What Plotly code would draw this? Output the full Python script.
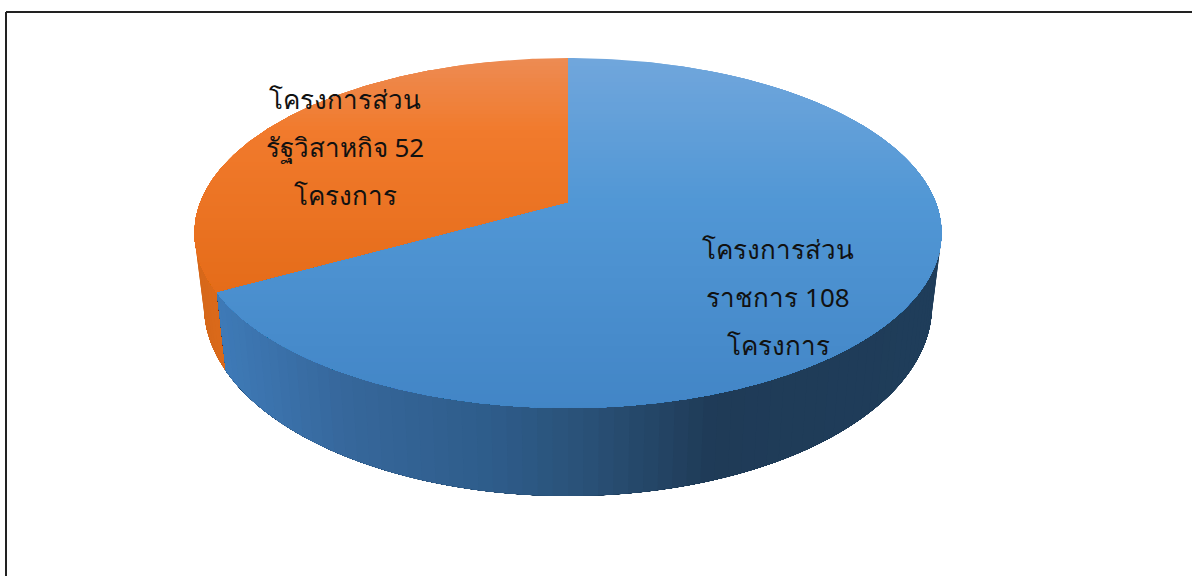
import numpy as np
import plotly.graph_objects as go

# --- data ---
categories = ["ราชการ", "รัฐวิสาหกิจ"]
project_counts = [108, 52]
label_head = "โครงการส่วน"
label_tail = "โครงการ"

# --- pie geometry (page pixels) ---
CX, APEX_Y = 568.0, 203.0
RIM_CY, RIM_RX, RIM_RY = 233.0, 373.5, 175.0
BASE_CY, BASE_RX, BASE_RY = 306.0, 364.0, 190.0
TOP_Y, BOTTOM_Y = RIM_CY - RIM_RY, RIM_CY + RIM_RY
back, front = APEX_Y - TOP_Y, BOTTOM_Y - APEX_Y
K = (front - back) / (front + back)
A = back * (1 + K)
B = RIM_RX * np.sqrt(1 - K * K)
EDGE_TRIM_DEG = -2.0  # calibration of the perspective at the slice edge


def rim(theta):
    th = np.radians(theta)
    w = 1 + K * np.cos(th)
    return CX + B * np.sin(th) / w, APEX_Y - A * np.cos(th) / w


def base(theta):
    x, y = rim(theta)
    sin_t, cos_t = (x - CX) / RIM_RX, -(y - RIM_CY) / RIM_RY
    return CX + BASE_RX * sin_t, BASE_CY - BASE_RY * cos_t


def clip_below(xs, ys, y0):
    out = []
    n = len(xs)
    for i in range(n):
        x1, y1, x2, y2 = xs[i], ys[i], xs[(i + 1) % n], ys[(i + 1) % n]
        if y1 >= y0:
            out.append((x1, y1))
        if (y1 >= y0) != (y2 >= y0):
            f = (y0 - y1) / (y2 - y1)
            out.append((x1 + f * (x2 - x1), y0))
    return [p[0] for p in out], [p[1] for p in out]


def ramp(stops, v):
    pos = [s[0] for s in stops]
    rgb = [np.interp(v, pos, [s[1][i] for s in stops]) for i in range(3)]
    return "rgb(%d,%d,%d)" % tuple(int(round(c)) for c in rgb)


BLUE_TOP = [(58, (112, 166, 220)), (200, (81, 151, 213)), (408, (66, 133, 198))]
ORANGE_TOP = [(58, (237, 139, 82)), (130, (241, 122, 44)), (300, (228, 107, 24))]
BLUE_SIDE = [(220, (62, 122, 183)), (350, (54, 103, 155)), (500, (46, 92, 138)),
             (600, (41, 80, 118)), (720, (31, 59, 87)), (940, (31, 61, 90))]
ORANGE_SIDE = [(195, (214, 104, 26)), (230, (222, 106, 26))]

fig = go.Figure()


def poly(xs, ys, color):
    fig.add_trace(go.Scatter(
        x=list(xs) + [xs[0]], y=list(ys) + [ys[0]], mode="lines", fill="toself",
        fillcolor=color, line=dict(color=color, width=0), hoverinfo="skip",
        showlegend=False))


edge = 360.0 * project_counts[0] / sum(project_counts) + EDGE_TRIM_DEG


# side walls: each step repaints everything still ahead of it, so no seams show
def wall(th_from, th_to, stops):
    step = 2.0 if th_to > th_from else -2.0
    for a in np.arange(th_from, th_to, step):
        ths = np.linspace(a, th_to, 60)
        rx, ry = rim(ths)
        bx, by = base(ths)
        xs = list(rx) + list(bx[::-1])
        ys = list(ry) + list(by[::-1])
        poly(xs, ys, ramp(stops, float(rim(a)[0])))


wall(290.0, edge, ORANGE_SIDE)
wall(70.0, edge, BLUE_SIDE)


# top faces, painted band over band so the shading runs down the page
def top_face(th_from, th_to, stops):
    ths = np.linspace(th_from, th_to, 240)
    xs, ys = rim(ths)
    xs, ys = [CX] + list(xs), [APEX_Y] + list(ys)
    for y0 in np.arange(min(ys), max(ys), 4.0):
        cx, cy = clip_below(xs, ys, y0)
        if len(cx) >= 3:
            poly(cx, cy, ramp(stops, y0))


top_face(edge, 360.0, ORANGE_TOP)
top_face(0.0, edge, BLUE_TOP)

# labels
label_lines = [
    [label_head, f"{categories[0]} {project_counts[0]}", label_tail],
    [label_head, f"{categories[1]} {project_counts[1]}", label_tail],
]
label_x = [778, 345]
label_y = [[252, 300, 348], [102, 150, 198]]
for lines, x, ys in zip(label_lines, label_x, label_y):
    fig.add_trace(go.Scatter(
        x=[x] * 3, y=ys, mode="text", text=lines, textposition="middle center",
        textfont=dict(size=26, color="#111111", family="Noto Sans, DejaVu Sans, sans-serif"),
        hoverinfo="skip", showlegend=False, cliponaxis=False))

# frame: left and top rules only reach the picture's edges
fig.add_shape(type="line", x0=6, x1=6, y0=12, y1=576, line=dict(color="#222222", width=2))
fig.add_shape(type="line", x0=6, x1=1192, y0=12, y1=12, line=dict(color="#222222", width=2))

fig.update_layout(
    width=1192, height=576, margin=dict(l=0, r=0, t=0, b=0),
    paper_bgcolor="white", plot_bgcolor="white", showlegend=False,
    xaxis=dict(range=[0, 1192], visible=False, fixedrange=True),
    yaxis=dict(range=[576, 0], visible=False, fixedrange=True),
)
fig.write_html("out.html", config={"displayModeBar": False},
               post_script="document.body.style.margin='0';")
